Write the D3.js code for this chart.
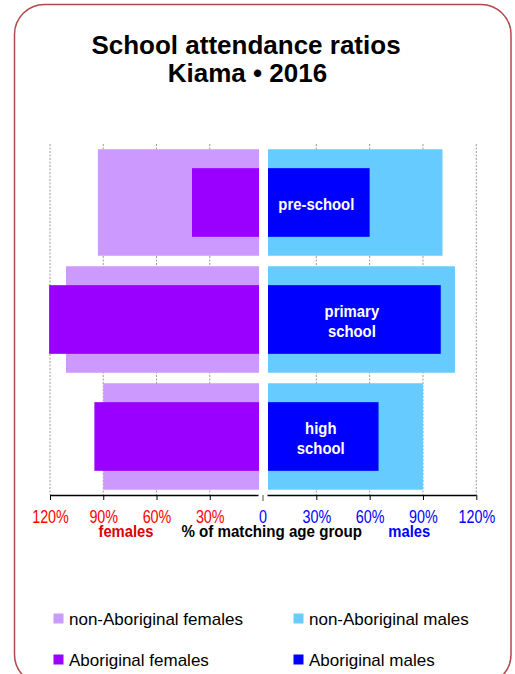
<!DOCTYPE html>
<html><head><meta charset="utf-8">
<script src="https://cdn.jsdelivr.net/npm/d3@7"></script>
<style>body{margin:0;background:#fff;} svg{display:block;font-family:"Liberation Sans",Arial,sans-serif;}</style>
</head><body>
<svg id="c" width="515" height="674"></svg>
<script>
const categories = ["pre-school", "primary school", "high school"];
const categoryLabels = [["pre-school"], ["primary", "school"], ["high", "school"]];
const nonAboriginalFemales = [93, 111, 90];
const aboriginalFemales = [40, 120.5, 95];
const nonAboriginalMales = [101, 108, 90];
const aboriginalMales = [60, 100, 65];
const tickValues = [30, 60, 90, 120];
const legendItems = ["non-Aboriginal females", "non-Aboriginal males", "Aboriginal females", "Aboriginal males"];
const colors = {naF: "#cc99ff", aF: "#9900ff", naM: "#66ccff", aM: "#0000ff"};

const svg = d3.select("#c");
// frame
svg.append("rect").attr("x", 14.5).attr("y", 4.5).attr("width", 496.5).attr("height", 680)
  .attr("rx", 30).attr("ry", 30).attr("fill", "none").attr("stroke", "#b04a4a").attr("stroke-width", 1.5);

// title
const title = svg.append("text").attr("text-anchor", "middle").attr("font-weight", "bold").attr("font-size", 26).attr("fill", "#000");
title.append("tspan").attr("x", 246).attr("y", 54).text("School attendance ratios");
title.append("tspan").attr("x", 247.5).attr("y", 81.5).text("Kiama \u2022 2016");

// helper: horizontally condensed text
function ctext(parent, x, y, str, size, sx, opts = {}) {
  const t = parent.append("text").attr("transform", `translate(${x},${y}) scale(${sx},1)`)
    .attr("text-anchor", opts.anchor || "middle").attr("font-size", size)
    .attr("font-weight", opts.weight || "normal").attr("fill", opts.fill || "#000").text(str);
  return t;
}

const zero = 263, gapL = 259, gapR = 268;
const xF = d3.scaleLinear().domain([0, 120]).range([zero, 50]);
const xM = d3.scaleLinear().domain([0, 120]).range([zero, 476.3]);
const y = d3.scaleBand().domain(categories).range([144, 495]).paddingInner(0.09).paddingOuter(0.045);
const axisY = 495;

// gridlines
const grid = svg.append("g");
tickValues.forEach(v => {
  [xF(v), xM(v)].forEach(x => {
    grid.append("line").attr("x1", x).attr("x2", x).attr("y1", 144).attr("y2", axisY)
      .attr("stroke", "#9a9a9a").attr("stroke-width", 1).attr("stroke-dasharray", "2,1.5");
  });
});

const inner = y.bandwidth() * 0.645;
const off = (y.bandwidth() - inner) / 2;
const bars = svg.append("g");
categories.forEach((c, i) => {
  bars.append("rect").attr("x", xF(nonAboriginalFemales[i])).attr("y", y(c))
    .attr("width", gapL - xF(nonAboriginalFemales[i])).attr("height", y.bandwidth()).attr("fill", colors.naF);
  bars.append("rect").attr("x", gapR).attr("y", y(c))
    .attr("width", xM(nonAboriginalMales[i]) - gapR).attr("height", y.bandwidth()).attr("fill", colors.naM);
  bars.append("rect").attr("x", xF(aboriginalFemales[i])).attr("y", y(c) + off)
    .attr("width", gapL - xF(aboriginalFemales[i])).attr("height", inner).attr("fill", colors.aF);
  bars.append("rect").attr("x", gapR).attr("y", y(c) + off)
    .attr("width", xM(aboriginalMales[i]) - gapR).attr("height", inner).attr("fill", colors.aM);
  const cx = (zero + xM(aboriginalMales[i])) / 2;
  const cy = y(c) + y.bandwidth() / 2;
  const lines = categoryLabels[i];
  lines.forEach((l, k) => {
    ctext(bars, cx, cy + (k - (lines.length - 1) / 2) * 20.6 + 7.5, l, 17, 0.875, {weight: "bold", fill: "#fff"});
  });
});

// axes
function drawAxis(scale, color, x1, x2) {
  const g = svg.append("g").attr("transform", `translate(0,${axisY})`)
    .call(d3.axisBottom(scale).tickValues(tickValues).tickSize(5).tickSizeOuter(0).tickFormat(d => d + "%"));
  g.select(".domain").remove();
  g.selectAll(".tick line").attr("stroke", "#000");
  g.selectAll(".tick text").attr("fill", color).attr("font-size", 17.5).attr("y", 0).attr("dy", 0)
    .attr("transform", "translate(0,28.3) scale(0.82,1)")
    .attr("font-family", "Liberation Sans, Arial, sans-serif");
  g.append("line").attr("x1", x1).attr("x2", x2).attr("y1", 0.5).attr("y2", 0.5).attr("stroke", "#000").attr("stroke-width", 1.3);
}
drawAxis(xF, "#ff0000", xF(120), gapL - 0.5);
drawAxis(xM, "#0000ff", gapR - 0.5, xM(120));
svg.append("line").attr("x1", zero).attr("x2", zero).attr("y1", axisY).attr("y2", axisY + 6)
  .attr("stroke", "#888").attr("stroke-width", 1.5);
ctext(svg, zero, axisY + 28.3, "0", 17.5, 0.82, {fill: "#0000ff"});

// axis titles
ctext(svg, 126, 537.3, "females", 17, 0.87, {weight: "bold", fill: "#dd0000"});
ctext(svg, 271.7, 537.3, "% of matching age group", 17, 0.89, {weight: "bold", fill: "#000"});
ctext(svg, 409.3, 537.3, "males", 17, 0.87, {weight: "bold", fill: "#0000ff"});

// legend
const legColors = [colors.naF, colors.naM, colors.aF, colors.aM];
const legX = [53.5, 293.5], legY = [613.5, 654.5];
legendItems.forEach((name, i) => {
  const lx = legX[i % 2], ly = legY[Math.floor(i / 2)];
  svg.append("rect").attr("x", lx).attr("y", ly).attr("width", 10).attr("height", 10).attr("fill", legColors[i]);
  svg.append("text").attr("x", lx + 15.5).attr("y", ly + 11.5).attr("font-size", 17).attr("fill", "#000").text(name);
});
</script>
</body></html>
